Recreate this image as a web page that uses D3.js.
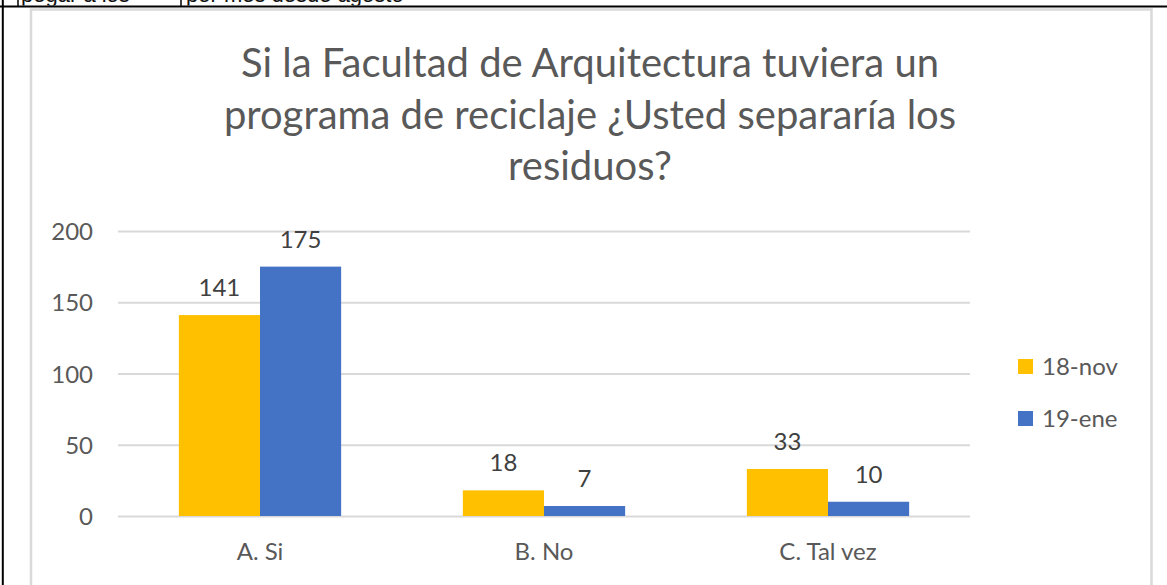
<!DOCTYPE html>
<html>
<head>
<meta charset="utf-8">
<script src="https://cdn.jsdelivr.net/npm/d3@7"></script>
<style>
  html, body { margin: 0; padding: 0; background: #fff; }
  svg { display: block; }
</style>
</head>
<body>
<svg id="chart" width="1167" height="585"></svg>
<script>
// Survey answers, two survey rounds
const categories = ["A. Si", "B. No", "C. Tal vez"];
const seriesNames = ["18-nov", "19-ene"];
const valuesNov = [141, 18, 33];
const valuesEne = [175, 7, 10];
const yTicks = [0, 50, 100, 150, 200];
const titleLines = [
  "Si la Facultad de Arquitectura tuviera un",
  "programa de reciclaje ¿Usted separaría los",
  "residuos?"
];
const colors = ["#FFC000", "#4472C4"];

const series = [valuesNov, valuesEne];
const rows = categories.map((c, i) => ({ cat: c, vals: series.map(s => s[i]) }));

const svg = d3.select("#chart");
const FONT = "Lato, 'Open Sans', sans-serif";
const TEXT = "#595959";

// Document table edge above the chart (its text row is cut by the page edge)
const clipTop = svg.append("defs").append("clipPath").attr("id", "topclip");
clipTop.append("rect").attr("x", 0).attr("y", 0).attr("width", 1167).attr("height", 5.5);
const topText = svg.append("g").attr("clip-path", "url(#topclip)");
topText.append("text").attr("x", 21).attr("y", 2).attr("font-family", "'Liberation Sans', Arial, sans-serif")
  .attr("font-size", 22).attr("fill", "#111").text("pegar a los");
topText.append("text").attr("x", 186).attr("y", 2).attr("font-family", "'Liberation Sans', Arial, sans-serif")
  .attr("font-size", 22).attr("fill", "#111").text("por mes desde agosto");
svg.append("line").attr("x1", 18).attr("x2", 18).attr("y1", 0).attr("y2", 6).attr("stroke", "#000").attr("stroke-width", 1.5);
svg.append("line").attr("x1", 181).attr("x2", 181).attr("y1", 0).attr("y2", 6).attr("stroke", "#000").attr("stroke-width", 1.5);
svg.append("line").attr("x1", 0).attr("x2", 1167).attr("y1", 6.5).attr("y2", 6.5).attr("stroke", "#000").attr("stroke-width", 1.8);
svg.append("line").attr("x1", 2.8).attr("x2", 2.8).attr("y1", 0).attr("y2", 585).attr("stroke", "#000").attr("stroke-width", 2);

// Chart frame
svg.append("rect").attr("x", 31).attr("y", 9.5).attr("width", 1120.5).attr("height", 600)
  .attr("fill", "#fff").attr("stroke", "#d9d9d9").attr("stroke-width", 2.5);

// Scales
const plotLeft = 118, plotRight = 970, plotTop = 231, plotBottom = 516;
const y = d3.scaleLinear().domain([0, 200]).range([plotBottom, plotTop]);
const x0 = d3.scaleBand().domain(categories).range([plotLeft, plotRight]).padding(0);
const x1 = d3.scaleBand().domain(seriesNames).range([0, x0.bandwidth()])
  .paddingInner(0).paddingOuter(0.75);

// Gridlines and value axis
const yAxis = d3.axisLeft(y).tickValues(yTicks).tickSize(-(plotRight - plotLeft)).tickPadding(25);
const gy = svg.append("g").attr("transform", `translate(${plotLeft},0)`).call(yAxis);
gy.select(".domain").remove();
gy.selectAll(".tick line").attr("stroke", "#d9d9d9").attr("stroke-width", 2);
gy.selectAll(".tick text").attr("fill", TEXT).attr("font-family", FONT).attr("font-size", 24)
  .attr("dy", "0.36em");

// Bars
const groups = svg.append("g").selectAll("g").data(rows).join("g")
  .attr("transform", d => `translate(${x0(d.cat)},0)`);
groups.selectAll("rect").data(d => d.vals.map((v, i) => ({ v, i })))
  .join("rect")
  .attr("x", d => x1(seriesNames[d.i]))
  .attr("width", x1.bandwidth())
  .attr("y", d => y(d.v))
  .attr("height", d => y(0) - y(d.v))
  .attr("fill", d => colors[d.i]);

// Value labels
groups.selectAll("text").data(d => d.vals.map((v, i) => ({ v, i })))
  .join("text")
  .attr("x", d => x1(seriesNames[d.i]) + x1.bandwidth() / 2)
  .attr("y", d => y(d.v) - 19)
  .attr("text-anchor", "middle")
  .attr("fill", "#404040").attr("font-family", FONT).attr("font-size", 24)
  .text(d => d.v);

// Category axis
const xAxis = d3.axisBottom(x0).tickSize(0).tickPadding(0);
const gx = svg.append("g").attr("transform", `translate(0,${plotBottom})`).call(xAxis);
gx.select(".domain").remove();
gx.selectAll(".tick text").attr("fill", TEXT).attr("font-family", FONT).attr("font-size", 24)
  .attr("y", 44).attr("dy", 0);

// Title
svg.append("g").selectAll("text").data(titleLines).join("text")
  .attr("x", 590).attr("y", (d, i) => 77 + i * 51.5)
  .attr("text-anchor", "middle").attr("fill", TEXT)
  .attr("font-family", FONT).attr("font-size", 40)
  .text(d => d);

// Legend
const legend = svg.append("g").selectAll("g").data(seriesNames).join("g")
  .attr("transform", (d, i) => `translate(1018,${359 + i * 52})`);
legend.append("rect").attr("width", 15).attr("height", 15).attr("fill", (d, i) => colors[i]);
legend.append("text").attr("x", 24).attr("y", 7.5).attr("dy", "0.36em")
  .attr("fill", TEXT).attr("font-family", FONT).attr("font-size", 24).text(d => d);
</script>
</body>
</html>
